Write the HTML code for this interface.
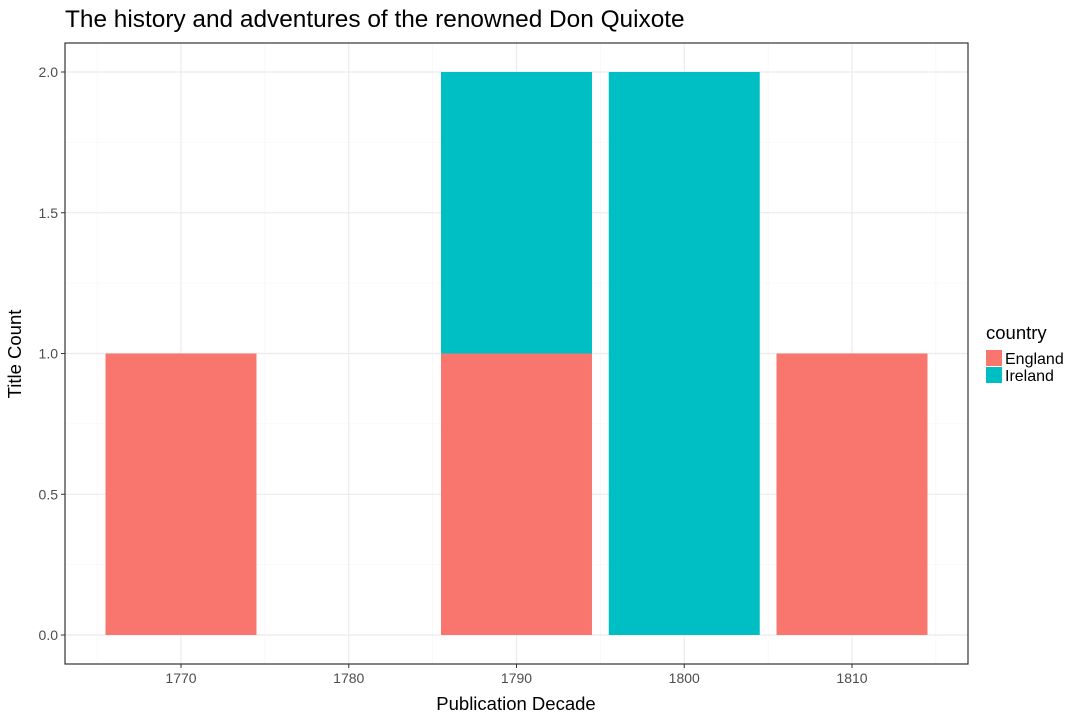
<!DOCTYPE html>
<html><head><meta charset="utf-8"><style>
body{margin:0;background:#fff;font-family:"Liberation Sans",sans-serif;}
</style></head><body>
<svg width="1080" height="720" xmlns="http://www.w3.org/2000/svg">
<text x="65" y="27" font-size="24.4" fill="#000">The history and adventures of the renowned Don Quixote</text>
<g id="grid"></g>
<g id="bars"></g>
<rect x="65" y="43" width="903" height="621" fill="none" stroke="#333" stroke-width="1.2"/>
<g id="axes" font-size="14" fill="#4d4d4d"></g>
<text x="516" y="710" font-size="18.5" text-anchor="middle">Publication Decade</text>
<text transform="translate(21,354) rotate(-90)" font-size="18.5" text-anchor="middle">Title Count</text>
<g>
<text x="986" y="339" font-size="18.5">country</text>
<rect x="986" y="350" width="16" height="16" fill="#F8766D"/>
<text x="1005" y="364" font-size="16">England</text>
<rect x="986" y="367" width="16" height="16" fill="#00BFC4"/>
<text x="1005" y="381" font-size="16">Ireland</text>
</g>
</svg>
<script>
const decades=[1770,1780,1790,1800,1810];
const england=[1,0,1,0,1];
const ireland=[0,0,1,2,0];
const yTicks=[0,0.5,1,1.5,2];
const xTicks=[1770,1780,1790,1800,1810];
const NS="http://www.w3.org/2000/svg";
const X=v=>181+(v-1770)*16.775;
const Y=v=>635-v*281.5;
function mk(tag,attrs,parent,text){const e=document.createElementNS(NS,tag);for(const k in attrs)e.setAttribute(k,attrs[k]);if(text!==undefined)e.textContent=text;parent.appendChild(e);return e;}
const grid=document.getElementById('grid'),bars=document.getElementById('bars'),axes=document.getElementById('axes');
for(let v=-0.25;v<=2.25;v+=0.25){const y=Y(v);if(y<43||y>664)continue;const major=Math.abs(v*2-Math.round(v*2))<1e-6;
const l=mk('line',{x1:65,x2:968,y1:y,y2:y,stroke:major?'#ebebeb':'#f4f4f4','stroke-width':major?1.2:0.6},grid);
}
for(let v=1765;v<=1815;v+=5){const x=X(v);if(x<65||x>968)continue;const major=v%10===0;
const l=mk('line',{x1:x,x2:x,y1:43,y2:664,stroke:major?'#ebebeb':'#f4f4f4','stroke-width':major?1.2:0.6},grid);
}
const w=0.9*167.75;
decades.forEach((d,i)=>{
 if(england[i]>0){const r=mk('rect',{x:X(d)-w/2,y:Y(england[i]),width:w,height:Y(0)-Y(england[i]),fill:'#F8766D'},bars);
 }
 if(ireland[i]>0){const r=mk('rect',{x:X(d)-w/2,y:Y(england[i]+ireland[i]),width:w,height:Y(england[i])-Y(england[i]+ireland[i]),fill:'#00BFC4'},bars);
 }
});
yTicks.forEach(v=>{const y=Y(v);
 const t=mk('line',{x1:61,x2:65,y1:y,y2:y,stroke:'#333'},axes);
 const l=mk('text',{x:58,y:y+5,'text-anchor':'end'},axes,v.toFixed(1));});
xTicks.forEach(v=>{const x=X(v);
 const t=mk('line',{x1:x,x2:x,y1:664,y2:668,stroke:'#333'},axes);
 const l=mk('text',{x:x,y:683,'text-anchor':'middle'},axes,String(v));});
</script>
</body></html>
